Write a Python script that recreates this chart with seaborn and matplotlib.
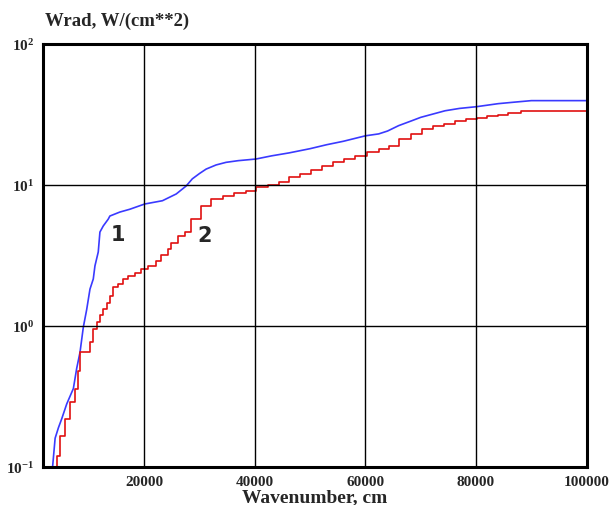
import matplotlib
matplotlib.use("Agg")
import matplotlib.pyplot as plt
import seaborn as sns
import pandas as pd
from matplotlib.ticker import MultipleLocator, FixedLocator, NullFormatter

# ---- data ----
blue_x = [3300, 3460, 3900, 4500, 5100, 6000, 7200, 7800, 8400, 9000, 9600, 10200,
          10800, 11100, 11700, 12000, 12600, 13500, 13800, 15600, 17400, 20100,
          23300, 25800, 27600, 28700, 30000, 31200, 33000, 34800, 37000, 40200,
          43000, 46200, 50000, 53000, 56000, 60000, 62400, 64000, 66000, 68400,
          70000, 74400, 77000, 80100, 84000, 86500, 90000, 100000]
blue_y = [0.09, 0.102, 0.16, 0.19, 0.22, 0.28, 0.36, 0.5, 0.65, 0.98, 1.3, 1.82,
          2.15, 2.66, 3.34, 4.62, 5.1, 5.7, 6.0, 6.4, 6.7, 7.3,
          7.7, 8.6, 9.8, 11.0, 12.0, 12.9, 13.8, 14.4, 14.8, 15.2,
          16.0, 16.8, 18.0, 19.2, 20.3, 22.2, 22.9, 24.0, 26.2, 28.4,
          30.0, 33.4, 34.7, 35.7, 37.5, 38.3, 39.4, 39.4]

red_x = [3500, 4200, 4800, 5700, 6600, 7500, 8000, 8400, 10200, 10800, 11400,
         12000, 12600, 13200, 13800, 14400, 15300, 16200, 17100, 18300, 19500,
         20700, 22200, 23100, 24300, 24900, 26100, 27300, 28500, 30300, 32100,
         34200, 36300, 38400, 40200, 42300, 44400, 46200, 48200, 50200, 52200,
         54200, 56200, 58200, 60200, 62400, 64200, 66000, 68200, 70200, 72200,
         74200, 76200, 78200, 80100, 82000, 84000, 85800, 88200, 100000]
red_y = [0.09, 0.12, 0.167, 0.22, 0.29, 0.36, 0.48, 0.65, 0.77, 0.95, 1.06,
         1.19, 1.32, 1.46, 1.63, 1.87, 1.98, 2.15, 2.27, 2.38, 2.52,
         2.67, 2.9, 3.2, 3.5, 3.86, 4.3, 4.6, 5.7, 7.1, 7.9,
         8.35, 8.7, 9.07, 9.6, 10.0, 10.4, 11.3, 12.0, 12.7, 13.6,
         14.4, 15.2, 16.0, 17.0, 17.9, 18.9, 21.1, 23.0, 25.0, 26.0,
         27.0, 28.4, 29.0, 29.5, 30.5, 31.3, 32.2, 33.1, 33.1]

x_ticks = [20000, 40000, 60000, 80000, 100000]
y_ticks = [0.1, 1, 10, 100]
y_tick_labels = [r"$\mathbf{10^{-1}}$", r"$\mathbf{10^{0}}$", r"$\mathbf{10^{1}}$", r"$\mathbf{10^{2}}$"]

sns.set_style("white")
plt.rcParams["font.family"] = ["Liberation Serif", "DejaVu Serif"]
plt.rcParams["mathtext.fontset"] = "custom"
plt.rcParams["mathtext.bf"] = "Liberation Serif:bold"
plt.rcParams["mathtext.rm"] = "Liberation Serif"

fig = plt.figure(figsize=(6.14, 5.06), dpi=100)
ax = fig.add_axes([0.0695, 0.075, 0.886, 0.837])

df_b = pd.DataFrame({"x": blue_x, "y": blue_y})
df_r = pd.DataFrame({"x": red_x, "y": red_y})
sns.lineplot(data=df_b, x="x", y="y", ax=ax, color="#3a3aff", lw=1.2,
             estimator=None, sort=False)
sns.lineplot(data=df_r, x="x", y="y", ax=ax, color="#e01010", lw=1.2,
             drawstyle="steps-post", estimator=None, sort=False)

ax.set_yscale("log")
ax.set_xlim(1650, 100000)
ax.set_ylim(0.1, 100)

ax.xaxis.set_major_locator(FixedLocator(x_ticks))
ax.xaxis.set_minor_locator(MultipleLocator(5000))
ax.set_xticklabels([str(v) for v in x_ticks], fontweight="bold", fontsize=11)
ax.yaxis.set_major_locator(FixedLocator(y_ticks))
ax.set_yticklabels(y_tick_labels, fontsize=11)
ax.yaxis.set_minor_formatter(NullFormatter())

ax.grid(True, which="major", color="black", lw=1.0)
ax.set_axisbelow(False)
ax.tick_params(axis="both", which="major", direction="in", length=8, width=1.2,
               top=False, right=False, pad=6, labelsize=11)
ax.tick_params(axis="both", which="minor", direction="in", length=4, width=1.0,
               top=False, right=False)
for s in ax.spines.values():
    s.set_linewidth(2.2)
    s.set_color("black")

ax.set_xlabel("Wavenumber, cm", fontweight="bold", fontsize=14, labelpad=0)
ax.set_ylabel("")
fig.text(0.073, 0.957, "Wrad, W/(cm**2)", fontweight="bold", fontsize=13.5, ha="left", va="center")

ax.text(15300, 4.5, "1", fontsize=15, fontweight="bold", family="DejaVu Sans", ha="center", va="center")
ax.text(30900, 4.4, "2", fontsize=15, fontweight="bold", family="DejaVu Sans", ha="center", va="center")

fig.savefig("out.png", dpi=100)
